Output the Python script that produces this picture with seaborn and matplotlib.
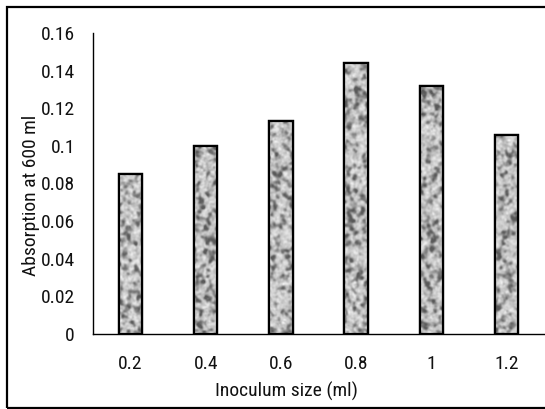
import numpy as np
import pandas as pd
import matplotlib
matplotlib.use("Agg")
import matplotlib.pyplot as plt
from matplotlib import font_manager
from matplotlib.patches import Rectangle
import seaborn as sns

# Data
inoculum = ["0.2", "0.4", "0.6", "0.8", "1", "1.2"]
absorption = [0.085, 0.100, 0.113, 0.144, 0.132, 0.106]
y_ticks = [0, 0.02, 0.04, 0.06, 0.08, 0.1, 0.12, 0.14, 0.16]
y_tick_labels = ["0", "0.02", "0.04", "0.06", "0.08", "0.1", "0.12", "0.14", "0.16"]

df = pd.DataFrame({"Inoculum size (ml)": inoculum, "Absorption at 600 ml": absorption})

sns.set_theme(style="white")

# Prefer a narrow sans face when one is available
installed = {f.name for f in font_manager.fontManager.ttflist}
narrow = [n for n in ("Liberation Sans Narrow", "Arial Narrow", "Roboto Condensed",
                      "Open Sans Condensed") if n in installed]
plt.rcParams["font.family"] = narrow + ["Liberation Sans", "DejaVu Sans"]
FS = 14 if narrow else 13

W, H = 545, 409
fig = plt.figure(figsize=(W / 100, H / 100), dpi=100)
ax = fig.add_axes([93 / W, (H - 334) / H, 451 / W, 301 / H])

sns.barplot(data=df, x="Inoculum size (ml)", y="Absorption at 600 ml",
            order=inoculum, width=0.31, color="#b4b4b4",
            edgecolor="black", linewidth=1.6, ax=ax)


def smooth(a, s):
    fy = np.fft.fftfreq(a.shape[0])[:, None]
    fx = np.fft.fftfreq(a.shape[1])[None, :]
    g = np.exp(-2 * (np.pi * s) ** 2 * (fx ** 2 + fy ** 2))
    return np.real(np.fft.ifft2(np.fft.fft2(a) * g))


# Soft granite-style texture fill clipped to each bar
rng = np.random.default_rng(11)
px_per_unit = 301 / 0.16
for bar in ax.patches:
    h = bar.get_height()
    rows = max(int(h * px_per_unit), 4)
    cols = 26
    coarse = smooth(rng.standard_normal((rows, cols)), 1.6)
    coarse /= coarse.std()
    fine = smooth(rng.standard_normal((rows, cols)), 0.8)
    fine /= fine.std()
    tex = 0.76 + 0.08 * np.tanh(coarse) - 0.18 * np.clip(-coarse - 0.1, 0, 1.8) \
        + 0.05 * fine
    tex = smooth(tex, 0.5)
    tex = np.clip(tex, 0.35, 0.95)
    x0 = bar.get_x()
    im = ax.imshow(tex, cmap="gray", vmin=0, vmax=1, aspect="auto",
                   extent=(x0, x0 + bar.get_width(), 0, h),
                   interpolation="bilinear", zorder=bar.get_zorder() + 0.1)
    im.set_clip_path(bar)
    ax.add_patch(Rectangle((x0, 0), bar.get_width(), h, fill=False,
                           edgecolor="black", linewidth=1.6,
                           zorder=bar.get_zorder() + 0.2))

ax.set_xlim(-0.5, 5.5)
ax.set_ylim(0, 0.16)
ax.set_yticks(y_ticks)
ax.set_yticklabels(y_tick_labels)

sns.despine(ax=ax, top=True, right=True)
for side in ("left", "bottom"):
    ax.spines[side].set_color("black")
    ax.spines[side].set_linewidth(1.0)

ax.tick_params(axis="both", length=0, labelsize=FS, colors="#111111")
ax.tick_params(axis="y", pad=13)
ax.tick_params(axis="x", pad=15)

ax.set_xlabel("Inoculum size (ml)", fontsize=FS, color="#111111", va="center")
ax.set_ylabel("Absorption at 600 ml", fontsize=FS, color="#111111", va="center")
ax.xaxis.set_label_coords(0.43, -0.19)
ax.yaxis.set_label_coords(-0.138, 0.46)

# Outer chart border
fig.patches.append(Rectangle((7 / W, 1 / H), 1.0, 1 - 8 / H, transform=fig.transFigure,
                             fill=False, edgecolor="black", linewidth=1.6,
                             clip_on=False))

fig.savefig("out.png", dpi=100)
